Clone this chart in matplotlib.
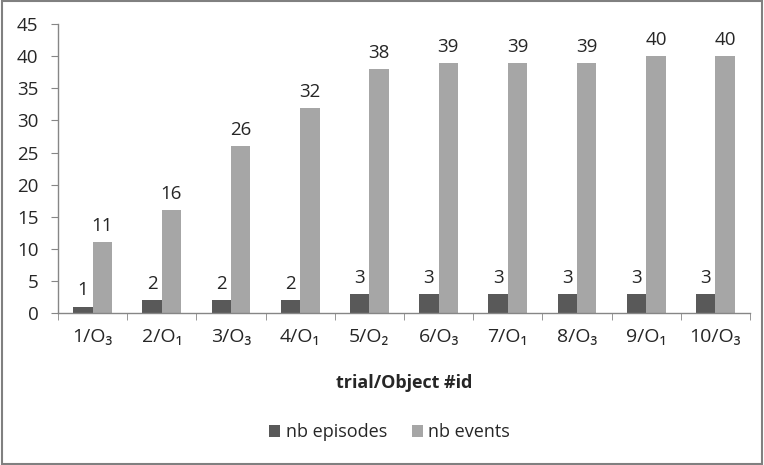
import matplotlib
matplotlib.use("Agg")
import matplotlib.pyplot as plt
import numpy as np

categories = ["1/O₃", "2/O₁", "3/O₃", "4/O₁", "5/O₂", "6/O₃", "7/O₁", "8/O₃", "9/O₁", "10/O₃"]
nb_episodes = [1, 2, 2, 2, 3, 3, 3, 3, 3, 3]
nb_events = [11, 16, 26, 32, 38, 39, 39, 39, 40, 40]

plt.rcParams['font.family'] = ['Open Sans', 'DejaVu Sans']
text_color = "#262626"

fig = plt.figure(figsize=(7.64, 4.65), dpi=100)
ax = fig.add_axes([0.0759, 0.327, 0.9058, 0.621])

x = np.arange(len(categories))
w = 0.28
dark, light = "#595959", "#a6a6a6"
b1 = ax.bar(x - w / 2, nb_episodes, w, color=dark, label="nb episodes")
b2 = ax.bar(x + w / 2, nb_events, w, color=light, label="nb events")

for bars, vals in ((b1, nb_episodes), (b2, nb_events)):
    for rect, v in zip(bars, vals):
        ax.text(rect.get_x() + rect.get_width() / 2, v + 1.1, str(v),
                ha="center", va="bottom", fontsize=13.5, color=text_color)

ax.set_xlim(-0.5, len(categories) - 0.5)
ax.set_ylim(0, 45)
ax.set_yticks(range(0, 46, 5))
ax.set_xticks(x)
ax.set_xticklabels(categories, fontsize=14, color=text_color)
ax.set_xticks(np.arange(-0.5, len(categories)), minor=True)
ax.tick_params(axis="x", which="major", length=0, pad=11)
ax.tick_params(axis="x", which="minor", length=5, color="#868686", direction="out")
ax.tick_params(axis="y", labelsize=13.5, labelcolor=text_color, length=5,
               color="#868686", direction="out", pad=9)

for s in ["top", "right"]:
    ax.spines[s].set_visible(False)
for s in ["left", "bottom"]:
    ax.spines[s].set_color("#868686")
    ax.spines[s].set_linewidth(1)

ax.set_xlabel("trial/Object #id", fontsize=13, fontweight="bold", color=text_color, labelpad=20)

fig.legend(handles=[b1, b2], loc="center", bbox_to_anchor=(0.51, 0.07), ncol=2,
           frameon=False, fontsize=13, handlelength=0.6, handleheight=0.6,
           handletextpad=0.3, columnspacing=1.4, labelcolor=text_color)

border = plt.Rectangle((0.002, 0.003), 0.996, 0.994, transform=fig.transFigure,
                       fill=False, edgecolor="#808080", linewidth=1.5)
fig.patches.append(border)

fig.savefig("out.png", dpi=100)
